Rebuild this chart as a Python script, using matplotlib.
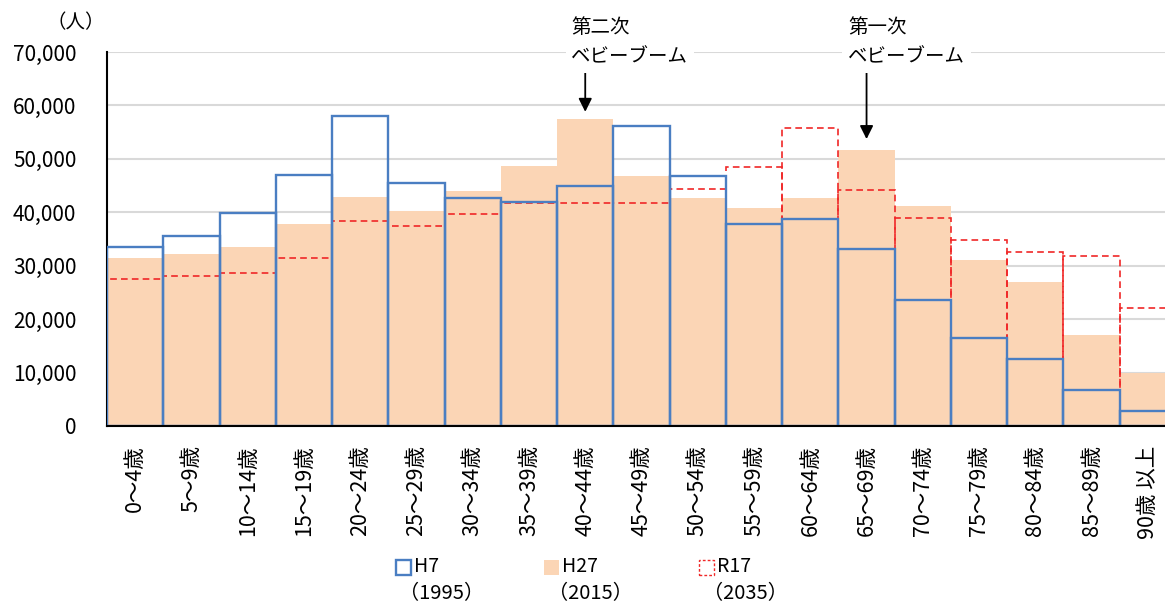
import matplotlib
matplotlib.use('Agg')
import matplotlib.pyplot as plt
from matplotlib.patches import Rectangle

plt.rcParams['font.family'] = ['Noto Sans CJK JP', 'DejaVu Sans']

# 年齢階級別人口
ages = ['0～4歳', '5～9歳', '10～14歳', '15～19歳', '20～24歳', '25～29歳',
        '30～34歳', '35～39歳', '40～44歳', '45～49歳', '50～54歳', '55～59歳',
        '60～64歳', '65～69歳', '70～74歳', '75～79歳', '80～84歳', '85～89歳',
        '90歳 以上']
h7 = [33500, 35600, 39800, 46900, 58100, 45500, 42600, 41900, 44900, 56200,
      46700, 37800, 38700, 33100, 23500, 16400, 12600, 6700, 2800]
h27 = [31400, 32200, 33500, 37900, 42900, 40200, 43900, 48700, 57400, 46700,
       42600, 40800, 42700, 51700, 41200, 31100, 27000, 17000, 9900]
r17 = [27500, 28000, 28600, 31500, 38400, 37400, 39600, 41700, 41700, 41800,
       44400, 48400, 55700, 44200, 38900, 34900, 32600, 31800, 22100]

c_h7 = '#4A7EC2'
c_h27 = '#FBD5B5'
c_r17 = '#F02828'

fig = plt.figure(figsize=(11.65, 6.03), dpi=100)
ax = fig.add_axes([107/1165, 177/603, 1069/1165, 374/603])

x = range(len(ages))
ax.bar(x, h27, width=1.0, color=c_h27, zorder=2)
ax.bar(x, r17, width=1.0, fill=False, edgecolor=c_r17, linewidth=1.2,
       linestyle=(0, (4, 2.5)), zorder=3)
ax.bar(x, h7, width=1.0, fill=False, edgecolor=c_h7, linewidth=1.7, zorder=4)

ax.set_xlim(-0.5, len(ages) - 0.5)
ax.set_ylim(0, 70000)
ax.set_yticks(range(0, 70001, 10000))
ax.set_yticklabels([f'{v:,}' for v in range(0, 70001, 10000)], fontsize=15)
ax.set_xticks(list(x))
ax.set_xticklabels(ages, rotation=90, fontsize=15.5, va='top')
ax.tick_params(axis='both', length=0)
ax.tick_params(axis='y', pad=22)
ax.tick_params(axis='x', pad=14)
ax.grid(axis='y', color='#D9D9D9', linewidth=1.5, zorder=0)
ax.set_axisbelow(True)
for s in ['top', 'right']:
    ax.spines[s].set_visible(False)
ax.spines['left'].set_linewidth(1.5)
ax.spines['bottom'].set_linewidth(1.5)
ax.spines['bottom'].set_zorder(5)

fig.text(76/1165, 1 - 23/603, '（人）', fontsize=14, ha='center', va='center')

# ベビーブームの注記
for txt, i, tx, tip in [('第二次\nベビーブーム', 8, 7.75, 58800),
                        ('第一次\nベビーブーム', 13, 12.67, 53700)]:
    ax.text(tx, 67150, txt, fontsize=14, ha='left', va='bottom',
            linespacing=1.5, zorder=6,
            bbox=dict(facecolor='white', edgecolor='none', pad=4))
    ax.annotate('', xy=(i, tip), xytext=(i, 66600), annotation_clip=False,
                arrowprops=dict(arrowstyle='-|>', color='black', lw=1.3,
                                mutation_scale=20, shrinkA=0, shrinkB=0))

# 凡例
legend_items = [('H7', '（1995）', 396, dict(facecolor='white', edgecolor=c_h7, linewidth=1.7)),
                ('H27', '（2015）', 544, dict(facecolor=c_h27, edgecolor='none')),
                ('R17', '（2035）', 699, dict(facecolor='white', edgecolor=c_r17,
                                             linewidth=1.0, linestyle=(0, (2, 1.5))))]
for name, year, px, style in legend_items:
    fig.add_artist(Rectangle((px/1165, 1 - 575/603), 15/1165, 15/603,
                             transform=fig.transFigure, **style))
    fig.text((px + 18)/1165, 1 - 567/603, name, fontsize=14, ha='left', va='center')
    fig.text((px + 46)/1165, 1 - 594/603, year, fontsize=14.5, ha='center', va='center')

fig.savefig('out.png', dpi=100)
